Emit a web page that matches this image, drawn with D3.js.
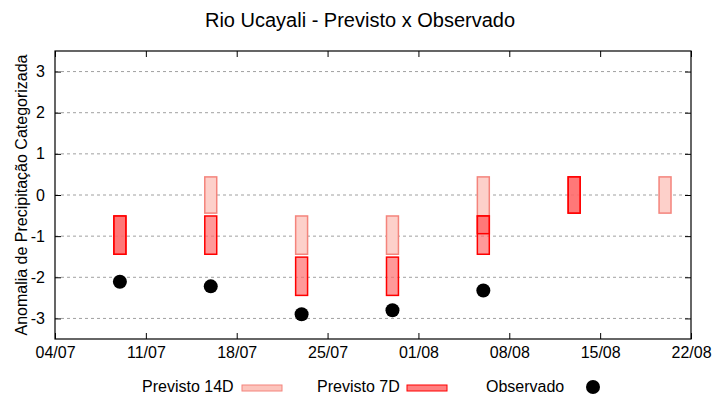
<!DOCTYPE html>
<html><head><meta charset="utf-8">
<script src="https://cdn.jsdelivr.net/npm/d3@7"></script>
<style>body{margin:0;background:#fff}svg{display:block}text{font-family:"Liberation Sans",Arial,sans-serif;fill:#000}</style>
</head><body>
<script>
const title = "Rio Ucayali - Previsto x Observado";
const yTitle = "Anomalia de Precipitação Categorizada";
const xTickLabels = ["04/07","11/07","18/07","25/07","01/08","08/08","15/08","22/08"];
const yTickValues = [-3,-2,-1,0,1,2,3];
// Previsto 14D (range per bar)
const dates14 = ["16/07","23/07","30/07","06/08","20/08"];
const hi14 = [0.44,-0.51,-0.51,0.44,0.44];
const lo14 = [-0.44,-1.44,-1.44,-0.51,-0.44];
// Previsto 7D (overlapping entries appear darker)
const dates7 = ["09/07","09/07","16/07","23/07","30/07","06/08","06/08","13/08","13/08"];
const hi7 = [-0.51,-0.51,-0.51,-1.51,-1.51,-0.51,-0.51,0.44,0.44];
const lo7 = [-1.44,-1.44,-1.44,-2.44,-2.44,-1.44,-0.94,-0.44,-0.44];
// Observado
const obsDates = ["09/07","16/07","23/07","30/07","06/08"];
const obsValues = [-2.11,-2.22,-2.90,-2.80,-2.32];

const parse = s => { const [d,m] = s.split("/").map(Number); return new Date(Date.UTC(2024, m-1, d)); };
const DAY = 86400000;
const W = 720, H = 400;
const m = {l:55, r:691, t:51, b:339};
const svg = d3.select("body").append("svg").attr("width",W).attr("height",H);

const x = d3.scaleUtc().domain([parse("04/07"), parse("22/08")]).range([m.l, m.r]);
const y = d3.scaleLinear().domain([-3.5,3.5]).range([m.b, m.t]);

// grid
svg.append("g").selectAll("line").data(yTickValues).join("line")
  .attr("x1",m.l).attr("x2",m.r).attr("y1",d=>y(d)).attr("y2",d=>y(d))
  .attr("stroke","#a0a0a0").attr("stroke-width",1).attr("stroke-dasharray","3,3");

const halfW = 0.46*DAY;
const rectsFor = (dates, lo, hi) => dates.map((d,i)=>({d:parse(d), lo:lo[i], hi:hi[i]}));

svg.append("g").selectAll("rect").data(rectsFor(dates14, lo14, hi14)).join("rect")
  .attr("x",d=>x(new Date(+d.d - halfW))).attr("width",d=>x(new Date(+d.d + halfW)) - x(new Date(+d.d - halfW)))
  .attr("y",d=>y(d.hi)).attr("height",d=>y(d.lo)-y(d.hi))
  .attr("fill","#fdd0ca").attr("stroke","#f4847c").attr("stroke-width",1.5);

svg.append("g").selectAll("rect").data(rectsFor(dates7, lo7, hi7)).join("rect")
  .attr("x",d=>x(new Date(+d.d - halfW))).attr("width",d=>x(new Date(+d.d + halfW)) - x(new Date(+d.d - halfW)))
  .attr("y",d=>y(d.hi)).attr("height",d=>y(d.lo)-y(d.hi))
  .attr("fill","rgb(255,104,104)").attr("fill-opacity",0.68).attr("stroke","#ff0000").attr("stroke-width",1.5);

svg.append("g").selectAll("circle").data(obsDates.map((d,i)=>({d:parse(d), v:obsValues[i]}))).join("circle")
  .attr("cx",d=>x(d.d)).attr("cy",d=>y(d.v)).attr("r",7).attr("fill","#000");

// axes frame
const tickDates = xTickLabels.map(parse);
const fmt = d3.utcFormat("%d/%m");
const gx = svg.append("g").attr("transform",`translate(0,${m.b})`)
  .call(d3.axisBottom(x).tickValues(tickDates).tickFormat(fmt).tickSizeInner(-6).tickSizeOuter(0).tickPadding(8));
const gxt = svg.append("g").attr("transform",`translate(0,${m.t})`)
  .call(d3.axisTop(x).tickValues(tickDates).tickFormat("").tickSizeInner(-6).tickSizeOuter(0));
const gy = svg.append("g").attr("transform",`translate(${m.l},0)`)
  .call(d3.axisLeft(y).tickValues(yTickValues).tickFormat(d3.format("d")).tickSizeInner(-6).tickSizeOuter(0).tickPadding(10));
const gyr = svg.append("g").attr("transform",`translate(${m.r},0)`)
  .call(d3.axisRight(y).tickValues(yTickValues).tickFormat("").tickSizeInner(-6).tickSizeOuter(0));
[gx,gxt,gy,gyr].forEach(g=>{
  g.selectAll(".domain").remove();
  g.selectAll("line").attr("stroke","#000").attr("stroke-width",1);
  g.selectAll("text").attr("font-size",16).attr("font-family",'"Liberation Sans",Arial,sans-serif').attr("fill","#000");
});
gy.selectAll("text").text(d=>String(d).replace("\u2212","-"));
svg.append("rect").attr("x",m.l).attr("y",m.t).attr("width",m.r-m.l).attr("height",m.b-m.t)
  .attr("fill","none").attr("stroke","#000").attr("stroke-width",1.2);

// titles
svg.append("text").attr("x",360).attr("y",27).attr("text-anchor","middle").attr("font-size",20).text(title);
svg.append("text").attr("transform",`translate(27,${(m.t+m.b)/2}) rotate(-90)`).attr("text-anchor","middle")
  .attr("font-size",16).text(yTitle);

// legend
const lg = svg.append("g");
lg.append("text").attr("x",142).attr("y",392).attr("font-size",16).text("Previsto 14D");
lg.append("rect").attr("x",242).attr("y",385).attr("width",40).attr("height",6)
  .attr("fill","#fcc4bc").attr("stroke","#f4847c").attr("stroke-width",1);
lg.append("text").attr("x",317).attr("y",392).attr("font-size",16).text("Previsto 7D");
lg.append("rect").attr("x",407).attr("y",385).attr("width",40).attr("height",6)
  .attr("fill","#ff8080").attr("stroke","#ff0000").attr("stroke-width",1);
lg.append("text").attr("x",486).attr("y",392).attr("font-size",16).text("Observado");
lg.append("circle").attr("cx",593).attr("cy",387).attr("r",7).attr("fill","#000");
</script>
</body></html>
